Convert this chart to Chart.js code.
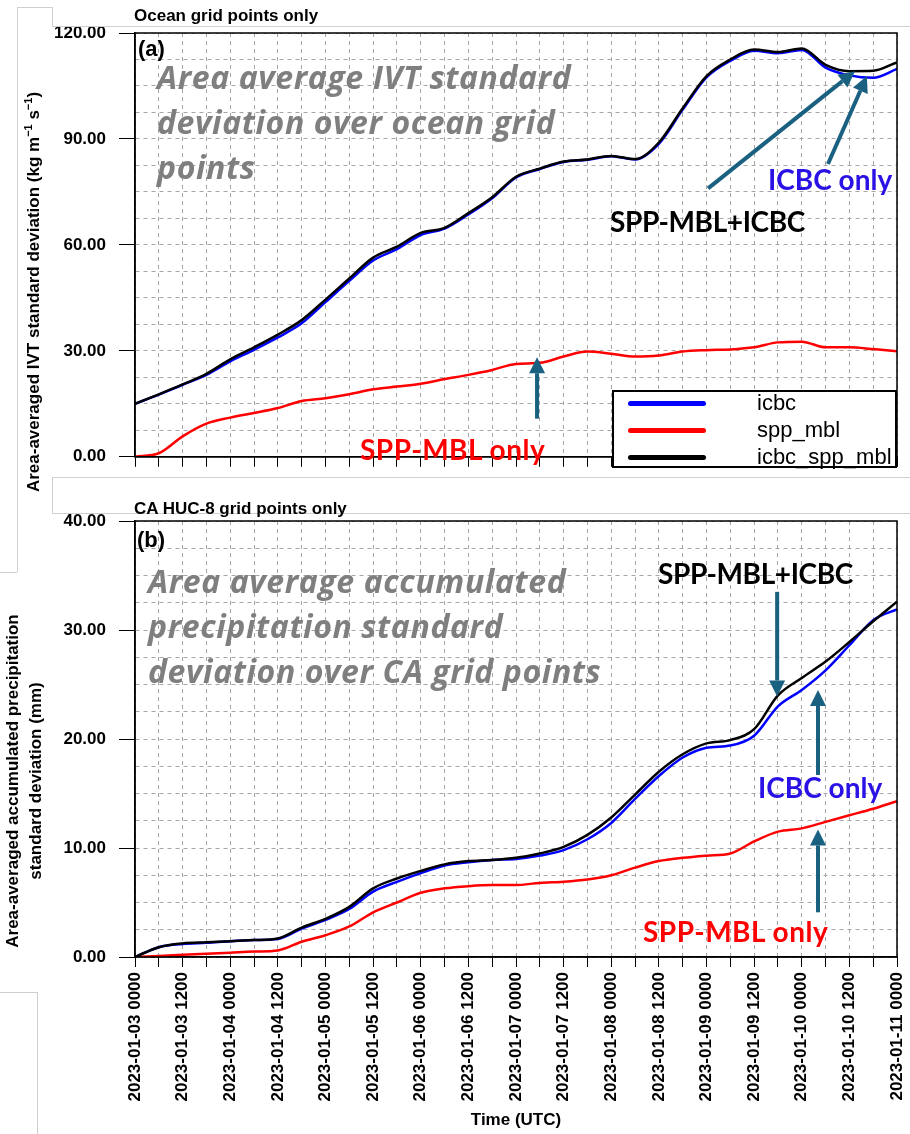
<!DOCTYPE html>
<html>
<head>
<meta charset="utf-8">
<script src="https://cdn.jsdelivr.net/npm/chart.js@4.4.1/dist/chart.umd.min.js"></script>
<style>
  body { margin: 0; background: #fff; }
  #page { position: relative; width: 910px; height: 1134px; overflow: hidden; background: #fff;
          font-family: "Liberation Sans", Arial, sans-serif; }
  canvas { position: absolute; left: 0; }
  .t { position: absolute; white-space: nowrap; line-height: 1.2; }
  .hv { font-family: "Liberation Sans", Arial, sans-serif; font-weight: bold; color: #000; }
  .note { font-family: "Open Sans", Lato, sans-serif; font-weight: bold; font-style: italic;
          color: #7f7f7f; font-size: 32px; line-height: 45px; letter-spacing: 0.6px; }
  .lab { font-family: Lato, "Open Sans", sans-serif; font-weight: bold; font-size: 28px; }
  .ytitle { position: absolute; white-space: nowrap; transform: translate(-50%, -50%) rotate(-90deg);
            font-family: "Liberation Sans", Arial, sans-serif; font-weight: bold; font-size: 17px; }
  .ln { position: absolute; background: #cfcfcf; }
  #legend { position: absolute; left: 612px; top: 390px; width: 285px; height: 78px;
            border: 2px solid #000; box-sizing: border-box; background: #fff; }
  #legend .sw { position: absolute; left: 14px; width: 78px; height: 5px; border-radius: 3px; }
  #legend .tx { position: absolute; left: 143px; font-size: 22px; line-height: 26px; color: #000; }
</style>
</head>
<body>
<div id="page">
  <canvas id="ivtChart" width="910" height="480" style="top:0"></canvas>
  <canvas id="precipChart" width="910" height="654" style="top:480px"></canvas>

  <!-- leftover frame lines of the pasted panels -->
  <div class="ln" style="left:17px;top:7px;width:1px;height:565px"></div>
  <div class="ln" style="left:17px;top:7px;width:35px;height:1px"></div>
  <div class="ln" style="left:52px;top:7px;width:1px;height:19px"></div>
  <div class="ln" style="left:52px;top:26px;width:858px;height:1px"></div>
  <div class="ln" style="left:0;top:572px;width:17px;height:1px"></div>
  <div style="position:absolute;left:52px;top:477px;width:858px;height:36px;background:#fff"></div>
  <div class="ln" style="left:52px;top:477px;width:858px;height:1px"></div>
  <div class="ln" style="left:52px;top:477px;width:1px;height:36px"></div>
  <div class="ln" style="left:52px;top:513px;width:858px;height:1px"></div>
  <div class="ln" style="left:0;top:992px;width:37px;height:1px"></div>
  <div class="ln" style="left:37px;top:992px;width:1px;height:142px"></div>

  <div class="t hv" style="left:134px;top:6px;font-size:17px">Ocean grid points only</div>
  <div class="t hv" style="left:134px;top:499px;font-size:17px">CA HUC-8 grid points only</div>
  <div class="t hv" style="left:138px;top:36px;font-size:22px">(a)</div>
  <div class="t hv" style="left:137px;top:527px;font-size:22px">(b)</div>

  <div class="ytitle" style="left:33px;top:292px">Area-averaged IVT standard deviation (kg m<sup style="font-size:11px">−1</sup> s<sup style="font-size:11px">−1</sup>)</div>
  <div class="ytitle" style="left:13px;top:781px">Area-averaged accumulated precipitation</div>
  <div class="ytitle" style="left:36px;top:781px">standard deviation (mm)</div>

  <div class="t note" style="left:157px;top:54px">Area average IVT standard<br>deviation over ocean grid<br>points</div>
  <div class="t note" style="left:148px;top:558px">Area average accumulated<br>precipitation standard<br>deviation over CA grid points</div>

  <div class="t lab" style="left:768px;top:163px;color:#2a12e6">ICBC only</div>
  <div class="t lab" style="left:610px;top:205px;color:#000;letter-spacing:-0.4px">SPP-MBL+ICBC</div>
  <div class="t lab" style="left:360px;top:433px;color:#ff0000;letter-spacing:0.5px">SPP-MBL only</div>
  <div class="t lab" style="left:658px;top:557px;color:#000;letter-spacing:-0.4px">SPP-MBL+ICBC</div>
  <div class="t lab" style="left:758px;top:771px;color:#2a12e6">ICBC only</div>
  <div class="t lab" style="left:643px;top:915px;color:#ff0000;letter-spacing:0.5px">SPP-MBL only</div>

  <div id="legend"></div>
</div>

<script>
// hours since 2023-01-03 00 UTC
const hours = [0, 6, 12, 18, 24, 30, 36, 42, 48, 54, 60, 66, 72, 78, 84, 90, 96,
  102, 108, 114, 120, 126, 132, 138, 144, 150, 156, 162, 168, 174, 180, 186, 192];

const xTickLabels = [
  "2023-01-03 0000", "2023-01-03 1200", "2023-01-04 0000", "2023-01-04 1200",
  "2023-01-05 0000", "2023-01-05 1200", "2023-01-06 0000", "2023-01-06 1200",
  "2023-01-07 0000", "2023-01-07 1200", "2023-01-08 0000", "2023-01-08 1200",
  "2023-01-09 0000", "2023-01-09 1200", "2023-01-10 0000", "2023-01-10 1200",
  "2023-01-11 0000",
];

const seriesNames = ["icbc", "spp_mbl", "icbc_spp_mbl"];
const seriesColors = ["#0000ff", "#ff0000", "#000000"];

// (a) IVT std dev, kg m-1 s-1
const ivtIcbc = [15.0, 17.6, 20.4, 23.2, 27.0, 30.3, 33.8, 37.8, 43.8, 49.8, 55.6, 58.8, 62.8, 64.6,
  68.6, 73.2, 79.1, 81.5, 83.5, 84.1, 85.1, 84.2, 88.6, 98.3, 107.4, 112.1, 115.0, 114.3,
  115.2, 110.2, 108.0, 107.3, 109.8];
const ivtSppMbl = [0.0, 1.0, 5.8, 9.4, 11.1, 12.4, 13.8, 15.8, 16.6, 17.7, 19.1, 19.9, 20.7, 22.0,
  23.2, 24.6, 26.3, 26.6, 28.4, 29.8, 29.2, 28.4, 28.7, 29.8, 30.2, 30.4, 31.0, 32.4,
  32.6, 31.0, 31.0, 30.5, 29.9];
const ivtIcbcSppMbl = [15.0, 17.7, 20.5, 23.5, 27.6, 31.0, 34.6, 38.7, 44.5, 50.5, 56.4, 59.5, 63.4, 64.8,
  69.0, 73.5, 79.3, 81.6, 83.6, 84.2, 85.2, 84.3, 89.0, 98.7, 107.8, 112.5, 115.3, 114.6,
  115.6, 111.0, 109.2, 109.3, 111.7];

// (b) accumulated precipitation std dev, mm
const prIcbc = [0, 0.9, 1.2, 1.3, 1.45, 1.55, 1.65, 2.6, 3.4, 4.4, 6.0, 6.9, 7.7, 8.4,
  8.7, 8.9, 9.0, 9.3, 9.8, 10.8, 12.3, 14.5, 16.6, 18.3, 19.2, 19.4, 20.3, 23.0,
  24.5, 26.3, 28.6, 30.9, 31.9];
const prSppMbl = [0, 0.1, 0.2, 0.3, 0.4, 0.5, 0.6, 1.4, 2.0, 2.8, 4.1, 5.0, 5.9, 6.3,
  6.5, 6.6, 6.6, 6.8, 6.9, 7.1, 7.5, 8.2, 8.8, 9.1, 9.3, 9.5, 10.6, 11.5,
  11.8, 12.4, 13.0, 13.6, 14.3];
const prIcbcSppMbl = [0, 0.9, 1.25, 1.35, 1.45, 1.55, 1.7, 2.7, 3.5, 4.6, 6.3, 7.2, 7.9, 8.5,
  8.8, 8.9, 9.1, 9.5, 10.1, 11.2, 12.8, 14.9, 17.0, 18.6, 19.6, 19.9, 20.9, 24.0,
  25.6, 27.1, 28.9, 30.8, 32.6];

const ivtTickLabels = [0, 30, 60, 90, 120];
const prTickLabels = [0, 10, 20, 30, 40];

const tickFont = { family: "Liberation Sans", size: 17, weight: "bold" };

const makeDatasets = (series) =>
  series.map((vals, i) => ({
    label: seriesNames[i],
    data: hours.map((h, k) => ({ x: h, y: vals[k] })),
    borderColor: seriesColors[i],
    borderWidth: 2.5,
    pointRadius: 0,
    pointHoverRadius: 0,
    cubicInterpolationMode: "monotone",
    order: i === 2 ? 0 : i + 1, // black drawn on top
  }));

const xScale = (withLabels) => ({
  type: "linear",
  min: 0,
  max: 192,
  afterBuildTicks: (s) => { s.ticks = hours.map((v) => ({ value: v })); },
  afterFit: (s) => {
    s.height = withLabels ? 177 : 13;
    s.paddingLeft = 0;
    s.paddingRight = 0;
  },
  ticks: {
    display: withLabels,
    autoSkip: false,
    minRotation: 90,
    maxRotation: 90,
    padding: 5,
    color: "#000",
    font: { family: "Liberation Sans", size: 17, weight: "bold" },
    callback: (v) => (v % 12 === 0 ? xTickLabels[v / 12] : ""),
  },
  grid: { color: "#a6a6a6", lineWidth: 1, tickLength: 10, tickColor: "#000" },
  border: { display: true, color: "#000", width: 1.5, dash: [4, 4] },
  title: {
    display: withLabels,
    text: "Time (UTC)",
    color: "#000",
    font: { family: "Liberation Sans", size: 17, weight: "bold" },
    padding: { top: 4, bottom: 3 },
  },
});

const yScale = (max, step, labelled) => ({
  type: "linear",
  min: 0,
  max: max,
  afterBuildTicks: (s) => {
    const t = [];
    for (let k = 0; k * step <= max + 1e-9; k++) t.push({ value: k * step });
    s.ticks = t;
  },
  afterFit: (s) => { s.width = 135; },
  ticks: {
    autoSkip: false,
    padding: 13,
    color: "#000",
    font: tickFont,
    callback: (v) => (labelled.includes(v) ? v.toFixed(2) : ""),
  },
  grid: {
    color: "#a6a6a6",
    lineWidth: 1,
    tickLength: 16,
    tickColor: (c) => (c.tick && labelled.includes(c.tick.value) ? "#000" : "rgba(0,0,0,0)"),
  },
  border: { display: true, color: "#000", width: 1.5, dash: [4, 4] },
});

const framePlugin = {
  id: "frame",
  afterDraw(chart) {
    const { ctx, chartArea: a } = chart;
    ctx.save();
    ctx.strokeStyle = "#000";
    ctx.lineWidth = 1.5;
    ctx.strokeRect(a.left, a.top, a.right - a.left, a.bottom - a.top);
    ctx.restore();
  },
};

// arrows are placed in data units (hour, value)
const arrowPlugin = {
  id: "arrows",
  afterDatasetsDraw(chart, args, opts) {
    const { ctx, scales: { x, y } } = chart;
    ctx.save();
    ctx.strokeStyle = ctx.fillStyle = "#1a6080";
    ctx.lineWidth = 4;
    for (const a of opts.items || []) {
      const x1 = x.getPixelForValue(a.from[0]), y1 = y.getPixelForValue(a.from[1]);
      const x2 = x.getPixelForValue(a.to[0]), y2 = y.getPixelForValue(a.to[1]);
      const ang = Math.atan2(y2 - y1, x2 - x1);
      const head = 16, half = 8;
      const bx = x2 - head * Math.cos(ang), by = y2 - head * Math.sin(ang);
      ctx.beginPath();
      ctx.moveTo(x1, y1);
      ctx.lineTo(bx, by);
      ctx.stroke();
      ctx.beginPath();
      ctx.moveTo(x2, y2);
      ctx.lineTo(bx + half * Math.sin(ang), by - half * Math.cos(ang));
      ctx.lineTo(bx - half * Math.sin(ang), by + half * Math.cos(ang));
      ctx.closePath();
      ctx.fill();
    }
    ctx.restore();
  },
};

const ivtChart = new Chart(document.getElementById("ivtChart"), {
  type: "line",
  data: { datasets: makeDatasets([ivtIcbc, ivtSppMbl, ivtIcbcSppMbl]) },
  options: {
    responsive: false,
    animation: false,
    devicePixelRatio: 1,
    layout: { padding: { top: 33, right: 13, left: 0, bottom: 0 }, autoPadding: false },
    scales: { x: xScale(false), y: yScale(120, 7.5, ivtTickLabels) },
    plugins: {
      legend: { display: false },
      tooltip: { enabled: false },
      arrows: {
        items: [
          { from: [144.4, 76.0], to: [181.4, 109.2] },
          { from: [174.6, 82.9], to: [184.4, 107.8] },
          { from: [101.3, 10.8], to: [101.3, 28.2] },
        ],
      },
    },
  },
  plugins: [arrowPlugin, framePlugin],
});

new Chart(document.getElementById("precipChart"), {
  type: "line",
  data: { datasets: makeDatasets([prIcbc, prSppMbl, prIcbcSppMbl]) },
  options: {
    responsive: false,
    animation: false,
    devicePixelRatio: 1,
    layout: { padding: { top: 41, right: 13, left: 0, bottom: 0 }, autoPadding: false },
    scales: { x: xScale(true), y: yScale(40, 2.5, prTickLabels) },
    plugins: {
      legend: { display: false },
      tooltip: { enabled: false },
      arrows: {
        items: [
          { from: [161.8, 33.5], to: [161.8, 23.9] },
          { from: [172.1, 16.7], to: [172.1, 24.5] },
          { from: [172.1, 4.1], to: [172.1, 11.7] },
        ],
      },
    },
  },
  plugins: [arrowPlugin, framePlugin],
});

// legend box for panel (a), built from the dataset list
const legend = document.getElementById("legend");
ivtChart.data.datasets.forEach((ds, i) => {
  const cy = 11 + i * 27;
  const sw = document.createElement("div");
  sw.className = "sw";
  sw.style.top = cy - 2.5 + "px";
  sw.style.background = ds.borderColor;
  const tx = document.createElement("div");
  tx.className = "tx";
  tx.style.top = cy - 13 + "px";
  tx.textContent = ds.label;
  legend.appendChild(sw);
  legend.appendChild(tx);
});
</script>
</body>
</html>
